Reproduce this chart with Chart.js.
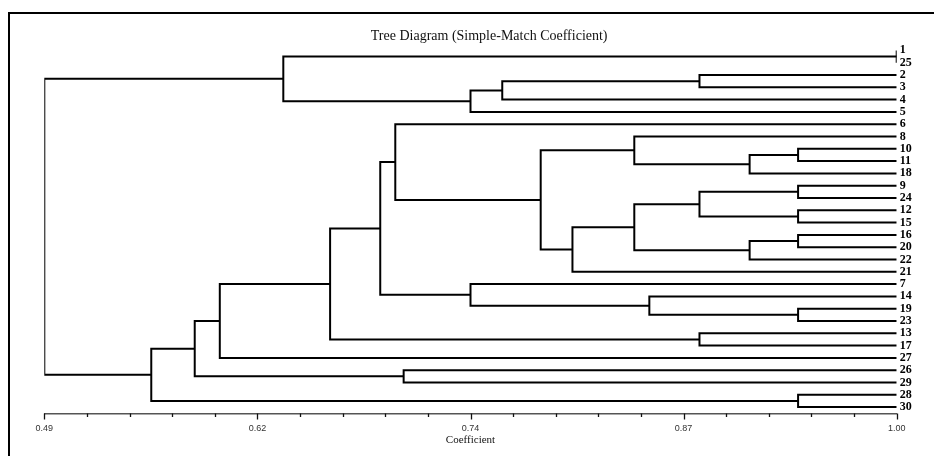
<!DOCTYPE html>
<html>
<head>
<meta charset="utf-8">
<script src="https://cdn.jsdelivr.net/npm/chart.js@4/dist/chart.umd.min.js"></script>
<style>
  html, body { margin: 0; padding: 0; background: #fff; }
  #c { display: block; }
</style>
</head>
<body>
<canvas id="c" width="934" height="456"></canvas>
<script>
// ---- data ----
const chartTitle = 'Tree Diagram (Simple-Match Coefficient)';
const axisTitle = 'Coefficient';
const leafLabels = ['1','25','2','3','4','5','6','8','10','11','18','9','24','12','15','16','20','22','21','7','14','19','23','13','17','27','26','29','28','30'];
const leafCoefficient = 1.00;
// merge k joins mergeLeft[k] and mergeRight[k] (leaf label or 'M'+index) at mergeHeight[k]
const mergeLeft  = ['1','2','M1','M2','M0','10','M5','8','9','12','M8','16','M11','M10','M13','M7','6','19','14','7','M16','13','M20','M22','26','M23','28','M25','M4'];
const mergeRight = ['25','3','4','5','M3','11','18','M6','24','15','M9','20','22','M12','21','M14','M15','23','M17','M18','M19','17','M21','27','29','M24','30','M26','M27'];
const mergeHeight = [1.00,0.882,0.764,0.745,0.633,0.941,0.912,0.843,0.941,0.941,0.882,0.941,0.912,0.843,0.806,0.787,0.700,0.941,0.852,0.745,0.691,0.882,0.661,0.595,0.705,0.580,0.941,0.554,0.49];
const majorTickValues = [0.49, 0.6175, 0.745, 0.8725, 1.00];
const tickLabels = ['0.49','0.62','0.74','0.87','1.00'];
const minorPerMajor = 5;

// ---- build dendrogram segments ----
const nodeCache = {};
function nodePos(ref) {
  if (nodeCache[ref]) return nodeCache[ref];
  let p;
  if (ref[0] === 'M') {
    const k = parseInt(ref.slice(1), 10);
    const a = nodePos(mergeLeft[k]);
    const b = nodePos(mergeRight[k]);
    p = { x: mergeHeight[k], y: (a.y + b.y) / 2 };
  } else {
    p = { x: leafCoefficient, y: leafLabels.indexOf(ref) };
  }
  nodeCache[ref] = p;
  return p;
}
const datasets = mergeHeight.map((h, k) => {
  const a = nodePos(mergeLeft[k]);
  const b = nodePos(mergeRight[k]);
  return {
    data: [{x: a.x, y: a.y}, {x: h, y: a.y}, {x: h, y: b.y}, {x: b.x, y: b.y}],
    showLine: true,
    borderColor: '#000',
    borderWidth: 2,
    pointRadius: 0,
    tension: 0,
    fill: false,
    borderJoinStyle: 'miter',
    borderCapStyle: 'butt'
  };
});

const xTicks = [];
for (let m = 0; m < majorTickValues.length; m++) {
  xTicks.push({ value: majorTickValues[m] });
  if (m < majorTickValues.length - 1) {
    const step = (majorTickValues[m + 1] - majorTickValues[m]) / minorPerMajor;
    for (let j = 1; j < minorPerMajor; j++) xTicks.push({ value: majorTickValues[m] + step * j });
  }
}

const framePlugin = {
  id: 'frame',
  beforeDraw(chart) {
    const ctx = chart.ctx;
    ctx.save();
    ctx.fillStyle = '#fff';
    ctx.fillRect(0, 0, chart.width, chart.height);
    ctx.strokeStyle = '#000';
    ctx.lineWidth = 2;
    ctx.beginPath();
    ctx.moveTo(9, chart.height + 2);
    ctx.lineTo(9, 13);
    ctx.lineTo(chart.width + 2, 13);
    ctx.stroke();
    ctx.restore();
  }
};

const tickMarkPlugin = {
  id: 'tickMarks',
  afterDraw(chart) {
    const sx = chart.scales.x;
    const ctx = chart.ctx;
    ctx.save();
    ctx.strokeStyle = '#111';
    ctx.lineWidth = 1.3;
    sx.ticks.forEach((t, i) => {
      const px = Math.round(sx.getPixelForValue(t.value)) + 0.5;
      const len = (i % minorPerMajor === 0) ? 6 : 3.5;
      ctx.beginPath();
      ctx.moveTo(px, sx.top);
      ctx.lineTo(px, sx.top + len);
      ctx.stroke();
    });
    ctx.restore();
  }
};

new Chart(document.getElementById('c'), {
  type: 'scatter',
  data: { datasets },
  options: {
    responsive: false,
    animation: false,
    devicePixelRatio: 1,
    layout: { padding: { left: 44.3, right: 0, top: 0, bottom: 0 } },
    plugins: {
      legend: { display: false },
      tooltip: { enabled: false },
      title: {
        display: true,
        text: chartTitle,
        color: '#111',
        font: { family: 'Liberation Serif', size: 14, weight: 'normal', lineHeight: 1 },
        padding: { top: 29, bottom: 1.25 }
      }
    },
    scales: {
      x: {
        type: 'linear',
        position: 'bottom',
        min: 0.49,
        max: 1.00,
        grid: { display: false },
        border: { display: true, color: '#555', width: 1.5 },
        afterBuildTicks(scale) { scale.ticks = xTicks.map(t => ({ value: t.value })); },
        afterFit(scale) { scale.height = 42.5; },
        ticks: {
          autoSkip: false,
          maxRotation: 0,
          padding: 1.8,
          color: '#333',
          font: { family: 'Liberation Sans', size: 9 },
          callback: (v, i) => (i % minorPerMajor === 0 ? tickLabels[i / minorPerMajor] : '')
        },
        title: {
          display: true,
          text: axisTitle,
          color: '#111',
          font: { family: 'Liberation Serif', size: 11 },
          padding: { top: 0, bottom: 9.4 }
        }
      },
      y: {
        type: 'linear',
        position: 'right',
        min: -0.5,
        max: 29.52,
        reverse: true,
        grid: { display: false, drawTicks: false },
        border: { display: false },
        afterBuildTicks(scale) { scale.ticks = leafLabels.map((_, i) => ({ value: i })); },
        afterFit(scale) { scale.width = 37.3; },
        ticks: {
          autoSkip: false,
          padding: 3,
          color: '#000',
          crossAlign: 'near',
          font: { family: 'Liberation Serif', size: 12, weight: 'bold' },
          callback: (v) => leafLabels[v]
        }
      }
    }
  },
  plugins: [framePlugin, tickMarkPlugin]
});
</script>
</body>
</html>
